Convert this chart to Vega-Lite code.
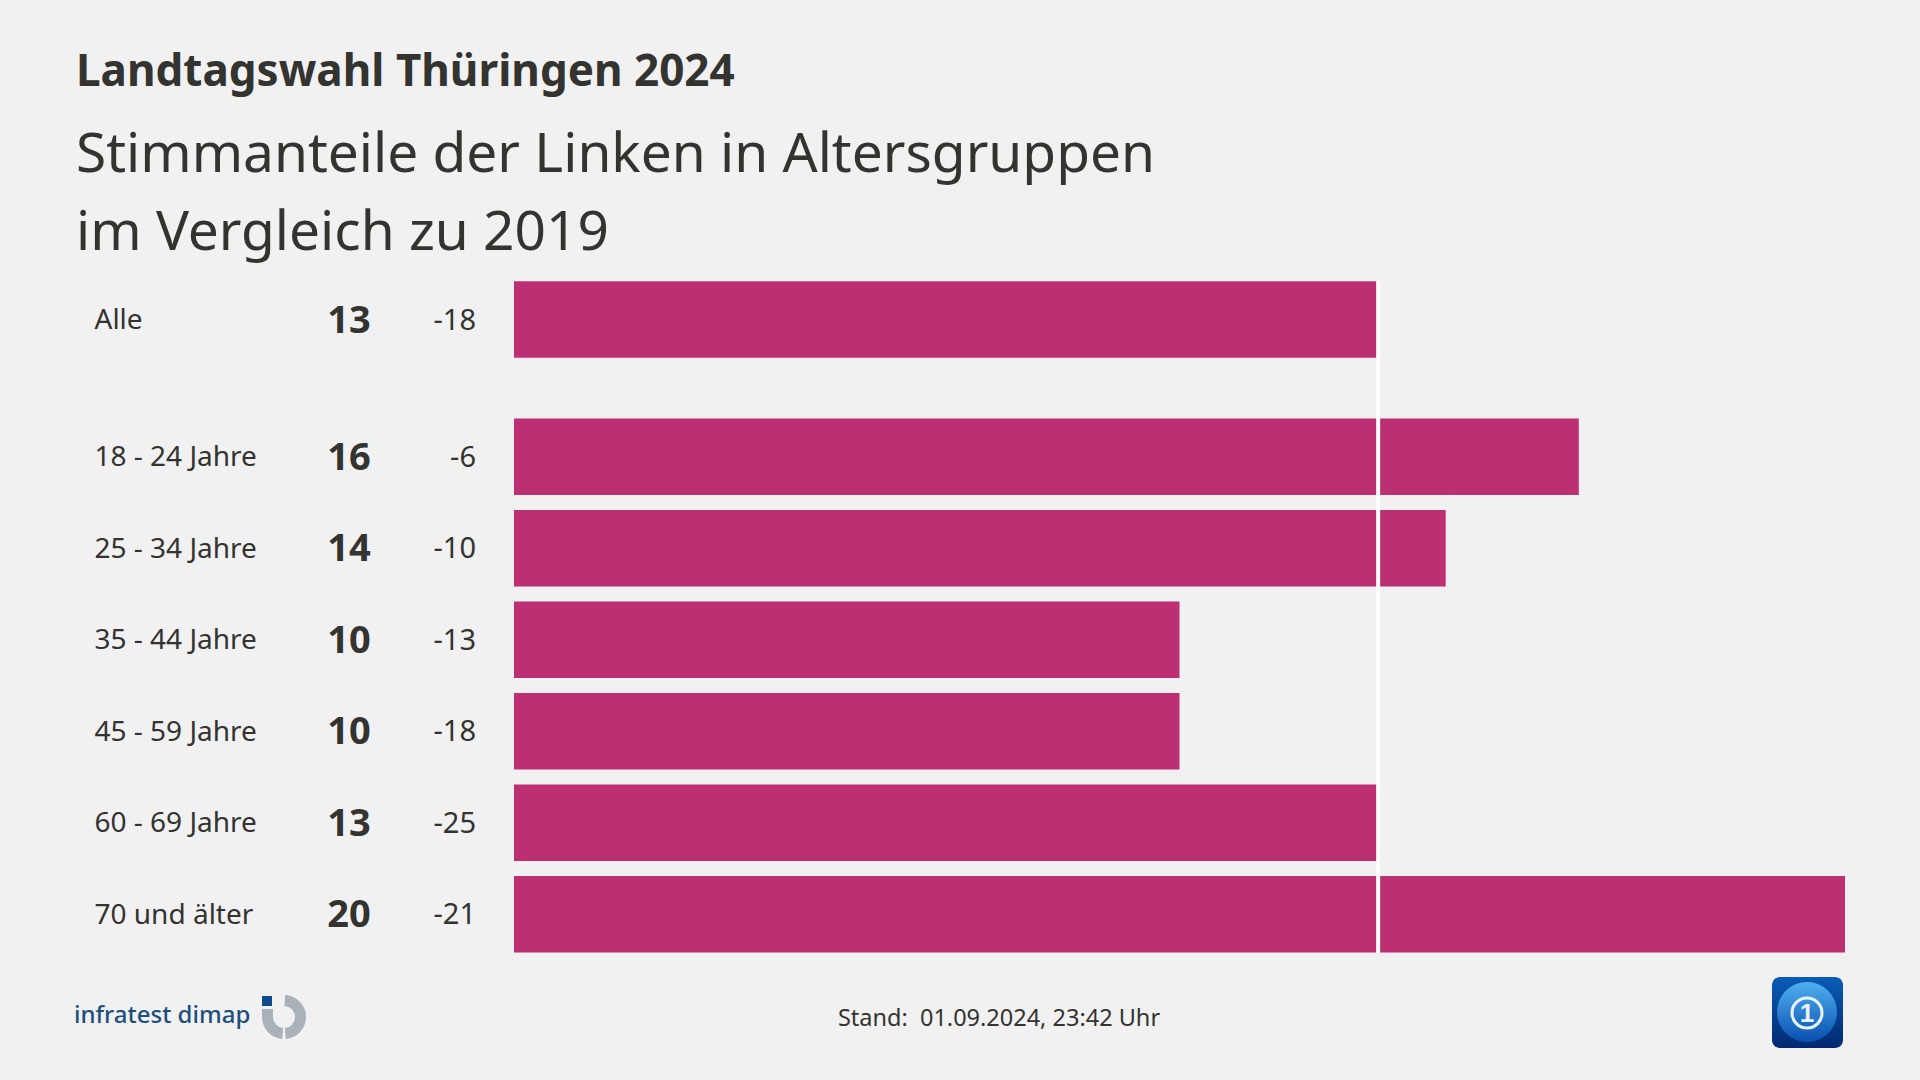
{"$schema":"https://vega.github.io/schema/vega-lite/v6.json","width":1331,"height":672,"autosize":{"type":"none"},"padding":{"left":514,"top":281,"right":75,"bottom":127},"background":"#f1f1f2","view":{"stroke":null},"title":{"text":"Landtagswahl Thüringen 2024","subtitle":["Stimmanteile der Linken in Altersgruppen","im Vergleich zu 2019"],"anchor":"start","frame":"group","dx":-438,"offset":18,"font":"Noto Sans","fontWeight":"bold","fontSize":44,"color":"#333330","subtitleFont":"Noto Sans","subtitleFontSize":55,"subtitleColor":"#333330","subtitleLineHeight":78,"subtitlePadding":34},"data":{"values":[{"gruppe":"Alle","anteil":13,"diff":-18},{"gruppe":"18 - 24 Jahre","anteil":16,"diff":-6},{"gruppe":"25 - 34 Jahre","anteil":14,"diff":-10},{"gruppe":"35 - 44 Jahre","anteil":10,"diff":-13},{"gruppe":"45 - 59 Jahre","anteil":10,"diff":-18},{"gruppe":"60 - 69 Jahre","anteil":13,"diff":-25},{"gruppe":"70 und älter","anteil":20,"diff":-21}]},"resolve":{"scale":{"x":"independent","y":"independent"}},"layer":[{"mark":{"type":"bar","height":76.5,"color":"#bc2f73"},"encoding":{"y":{"field":"gruppe","type":"nominal","sort":null,"scale":{"type":"point","padding":0,"domain":["Alle","leer1","leer2","18 - 24 Jahre","leer3","25 - 34 Jahre","leer4","35 - 44 Jahre","leer5","45 - 59 Jahre","leer6","60 - 69 Jahre","leer7","70 und älter"],"range":[38.5,633.2]},"axis":{"title":null,"domain":false,"ticks":false,"grid":false,"orient":"left","labelAlign":"left","labelPadding":420,"labelOffset":1,"labelFont":"Noto Sans","labelFontSize":28,"labelColor":"#333330","labelExpr":"slice(datum.label,0,4)=='leer'?'':datum.label"}},"x":{"field":"anteil","type":"quantitative","scale":{"domain":[0,20],"range":[0,1331]},"axis":null}}},{"mark":{"type":"rule","color":"#ffffff","strokeWidth":4,"xOffset":-1},"data":{"values":[{}]},"encoding":{"x":{"datum":13,"type":"quantitative","scale":{"domain":[0,20],"range":[0,1331]},"axis":null}}},{"mark":{"type":"text","font":"Noto Sans","fontWeight":"bold","fontSize":38,"color":"#333330","align":"center","baseline":"middle","dy":2},"encoding":{"x":{"datum":"Anteil","type":"nominal","scale":{"type":"point","domain":["Anteil","Differenz"],"range":[-165,-38],"padding":0},"axis":null},"y":{"field":"gruppe","type":"nominal","sort":null,"scale":{"type":"point","padding":0,"domain":["Alle","leer1","leer2","18 - 24 Jahre","leer3","25 - 34 Jahre","leer4","35 - 44 Jahre","leer5","45 - 59 Jahre","leer6","60 - 69 Jahre","leer7","70 und älter"],"range":[38.5,633.2]},"axis":null},"text":{"field":"anteil","type":"quantitative"}}},{"mark":{"type":"text","font":"Noto Sans","fontSize":29,"color":"#333330","align":"right","baseline":"middle","dy":1},"encoding":{"x":{"datum":"Differenz","type":"nominal","scale":{"type":"point","domain":["Anteil","Differenz"],"range":[-165,-38],"padding":0},"axis":null},"y":{"field":"gruppe","type":"nominal","sort":null,"scale":{"type":"point","padding":0,"domain":["Alle","leer1","leer2","18 - 24 Jahre","leer3","25 - 34 Jahre","leer4","35 - 44 Jahre","leer5","45 - 59 Jahre","leer6","60 - 69 Jahre","leer7","70 und älter"],"range":[38.5,633.2]},"axis":null},"text":{"field":"diff","type":"nominal"}}},{"mark":{"type":"text","font":"Noto Sans","fontSize":23.5,"color":"#333330","align":"center","baseline":"middle"},"data":{"values":[{"t":"Stand: \u00a001.09.2024, 23:42 Uhr"}]},"encoding":{"x":{"datum":999,"type":"quantitative","scale":{"domain":[0,1920],"range":[-514,1406]},"axis":null},"y":{"datum":1019,"type":"quantitative","scale":{"domain":[0,1080],"range":[-281,799]},"axis":null},"text":{"field":"t"}}},{"mark":{"type":"text","font":"Noto Sans","fontWeight":500,"fontSize":24,"color":"#1d4f7c","align":"left","baseline":"middle"},"data":{"values":[{"t":"infratest dimap"}]},"encoding":{"x":{"datum":74,"type":"quantitative","scale":{"domain":[0,1920],"range":[-514,1406]},"axis":null},"y":{"datum":1016,"type":"quantitative","scale":{"domain":[0,1080],"range":[-281,799]},"axis":null},"text":{"field":"t"}}},{"mark":{"type":"arc","color":"#a9b2b9","theta":0.05,"theta2":3.06,"radius":22,"radius2":11},"data":{"values":[{}]},"encoding":{"x":{"datum":284,"type":"quantitative","scale":{"domain":[0,1920],"range":[-514,1406]},"axis":null},"y":{"datum":1017,"type":"quantitative","scale":{"domain":[0,1080],"range":[-281,799]},"axis":null}}},{"mark":{"type":"arc","color":"#a9b2b9","theta":3.22,"theta2":4.71,"radius":22,"radius2":11},"data":{"values":[{}]},"encoding":{"x":{"datum":284,"type":"quantitative","scale":{"domain":[0,1920],"range":[-514,1406]},"axis":null},"y":{"datum":1017,"type":"quantitative","scale":{"domain":[0,1080],"range":[-281,799]},"axis":null}}},{"mark":{"type":"rect","color":"#a9b2b9"},"data":{"values":[{}]},"encoding":{"x":{"datum":262,"type":"quantitative","scale":{"domain":[0,1920],"range":[-514,1406]},"axis":null},"x2":{"datum":273},"y":{"datum":1009,"type":"quantitative","scale":{"domain":[0,1080],"range":[-281,799]},"axis":null},"y2":{"datum":1018}}},{"mark":{"type":"rect","color":"#0f4a8a"},"data":{"values":[{}]},"encoding":{"x":{"datum":262,"type":"quantitative","scale":{"domain":[0,1920],"range":[-514,1406]},"axis":null},"x2":{"datum":272},"y":{"datum":996,"type":"quantitative","scale":{"domain":[0,1080],"range":[-281,799]},"axis":null},"y2":{"datum":1006}}},{"mark":{"type":"rect","cornerRadius":8,"color":{"gradient":"linear","x1":0,"y1":0,"x2":0,"y2":1,"stops":[{"offset":0,"color":"#0a5cb8"},{"offset":1,"color":"#02296f"}]}},"data":{"values":[{}]},"encoding":{"x":{"datum":1772,"type":"quantitative","scale":{"domain":[0,1920],"range":[-514,1406]},"axis":null},"x2":{"datum":1843},"y":{"datum":977,"type":"quantitative","scale":{"domain":[0,1080],"range":[-281,799]},"axis":null},"y2":{"datum":1048}}},{"mark":{"type":"point","shape":"circle","filled":true,"size":3600,"opacity":1,"color":{"gradient":"linear","x1":0,"y1":0,"x2":0,"y2":1,"stops":[{"offset":0,"color":"#4fb0ee"},{"offset":1,"color":"#0a4fb0"}]}},"data":{"values":[{}]},"encoding":{"x":{"datum":1807,"type":"quantitative","scale":{"domain":[0,1920],"range":[-514,1406]},"axis":null},"y":{"datum":1012,"type":"quantitative","scale":{"domain":[0,1080],"range":[-281,799]},"axis":null}}},{"mark":{"type":"point","shape":"circle","filled":false,"size":900,"opacity":1,"color":"#e8f3fb","strokeWidth":3},"data":{"values":[{}]},"encoding":{"x":{"datum":1807,"type":"quantitative","scale":{"domain":[0,1920],"range":[-514,1406]},"axis":null},"y":{"datum":1013,"type":"quantitative","scale":{"domain":[0,1080],"range":[-281,799]},"axis":null}}},{"mark":{"type":"text","font":"Liberation Sans","fontWeight":"bold","fontSize":26,"color":"#e8f3fb","align":"center","baseline":"middle"},"data":{"values":[{"t":"1"}]},"encoding":{"x":{"datum":1807,"type":"quantitative","scale":{"domain":[0,1920],"range":[-514,1406]},"axis":null},"y":{"datum":1014,"type":"quantitative","scale":{"domain":[0,1080],"range":[-281,799]},"axis":null},"text":{"field":"t"}}}]}
